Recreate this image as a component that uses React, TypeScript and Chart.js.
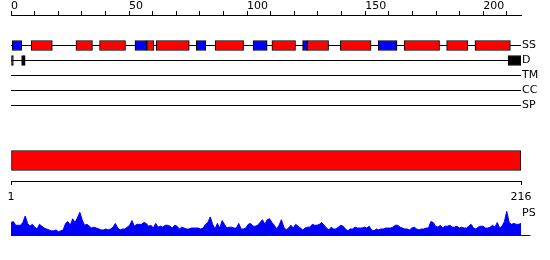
import React, { useEffect, useRef } from 'react';
import { Chart, registerables } from 'chart.js';

Chart.register(...registerables);

// ---------- data ----------
const SEQ_LENGTH = 216;
const TRACKS = ['SS', 'D', 'TM', 'CC', 'SP'];
const TOP_TICK_LABELS = [0, 50, 100, 150, 200];
const BOTTOM_TICK_LABELS = [1, 216];
const PS_LABEL = 'PS';

// secondary structure: helices (red) and strands (blue), [start, end] in residues
const SS_HELIX: [number, number][] = [
  [8.5, 17.5], [27.5, 34.5], [37.5, 48.5], [57.5, 60.5], [61.5, 75.5], [86.5, 98.5],
  [110.5, 120.5], [125.5, 134.5], [139.5, 152.5], [166.5, 181.5], [184.5, 193.5], [196.5, 211.5],
];
const SS_STRAND: [number, number][] = [
  [0.5, 4.5], [52.5, 57.5], [78.5, 82.5], [102.5, 108.5], [123.5, 125.5], [155.5, 163.5],
];
// disorder regions
const DISORDER: [number, number][] = [[0, 1], [4.5, 6], [210.5, 216]];
// full-length domain bar
const DOMAIN: [number, number][] = [[0, 216]];

// PS profile, residues 1..216
const PS_VALUES = [
  14, 15, 11, 11, 11, 14, 21, 13, 10, 12,
  9, 7, 12, 10, 8, 7, 6, 5, 5, 6,
  4, 5, 6, 13, 15, 11, 18, 14, 19, 25,
  17, 11, 12, 10, 8, 9, 8, 7, 6, 6,
  7, 6, 7, 9, 13, 8, 6, 7, 7, 9,
  11, 16, 10, 12, 12, 12, 14, 13, 10, 11,
  8, 13, 9, 10, 9, 11, 11, 10, 8, 11,
  10, 7, 9, 8, 7, 7, 8, 8, 8, 8,
  7, 8, 12, 14, 20, 12, 7, 13, 8, 16,
  12, 8, 9, 9, 8, 8, 13, 7, 7, 8,
  12, 13, 10, 10, 11, 14, 17, 12, 17, 18,
  14, 11, 7, 11, 17, 9, 6, 8, 11, 8,
  12, 10, 8, 6, 8, 9, 9, 12, 11, 11,
  12, 14, 11, 8, 6, 9, 7, 7, 9, 11,
  10, 7, 5, 7, 7, 9, 8, 8, 8, 9,
  8, 10, 6, 5, 7, 6, 7, 7, 8, 8,
  8, 9, 11, 11, 9, 8, 7, 7, 6, 8,
  9, 7, 6, 7, 7, 8, 8, 15, 14, 10,
  9, 11, 8, 10, 10, 11, 9, 9, 10, 8,
  9, 8, 8, 10, 12, 8, 7, 9, 10, 10,
  8, 8, 9, 11, 9, 14, 8, 10, 15, 26,
  14, 12, 13, 12, 12, 13,
];

// ---------- layout (not data) ----------
const ROW_Y: Record<string, number> = { SS: 45, D: 60, TM: 75, CC: 90, SP: 105 };
const DOMAIN_Y = 160;
const PS_LABEL_Y = 24.5;
const PS_BASELINE_END = 220;

const FONT = { family: 'DejaVu Sans', size: 11 };

export default function App() {
  const topRef = useRef<HTMLCanvasElement>(null);
  const psRef = useRef<HTMLCanvasElement>(null);

  useEffect(() => {
    const lineDs = TRACKS.map((t) => ({
      type: 'line' as const,
      data: [{ x: 0, y: ROW_Y[t] }, { x: SEQ_LENGTH, y: ROW_Y[t] }],
      borderColor: '#000',
      borderWidth: 1,
      pointRadius: 0,
      order: 2,
      xAxisID: 'x',
      yAxisID: 'y',
    }));
    const barDs = (ranges: [number, number][], color: string, y: number, thick: number) => ({
      type: 'bar' as const,
      indexAxis: 'y' as const,
      data: ranges.map((r) => ({ x: r, y })),
      backgroundColor: color,
      borderColor: '#000',
      borderWidth: 1,
      borderSkipped: false,
      barThickness: thick,
      stack: 'all',
      order: 1,
      xAxisID: 'x',
      yAxisID: 'y',
    });

    const c1 = new Chart(topRef.current!, {
      type: 'bar',
      data: {
        datasets: [
          ...lineDs,
          barDs(SS_HELIX, '#ff0000', ROW_Y.SS, 10),
          barDs(SS_STRAND, '#0000ff', ROW_Y.SS, 10),
          barDs(DISORDER, '#000000', ROW_Y.D, 10),
          barDs(DOMAIN, '#ff0000', DOMAIN_Y, 20),
        ] as any,
      },
      options: {
        animation: false,
        responsive: false,
        devicePixelRatio: 1,
        layout: { padding: { left: 11, right: 0, top: 0, bottom: 0 } },
        plugins: { legend: { display: false }, tooltip: { enabled: false } },
        scales: {
          x: {
            type: 'linear',
            position: 'top',
            min: 0,
            max: SEQ_LENGTH,
            stacked: false,
            offset: false,
            grid: { drawOnChartArea: false, tickLength: 4, color: '#000', offset: false },
            border: { color: '#000' },
            ticks: {
              stepSize: 10,
              includeBounds: false,
              autoSkip: false,
              maxRotation: 0,
              align: 'start',
              padding: -2,
              color: '#000',
              font: FONT,
              callback: (v: any) => (TOP_TICK_LABELS.includes(Number(v)) ? String(v) : ''),
            },
            afterFit: (s: any) => { s.height = 15; },
          },
          x2: {
            type: 'linear',
            position: 'bottom',
            min: 1,
            max: SEQ_LENGTH,
            offset: false,
            grid: { drawOnChartArea: false, drawTicks: true, tickLength: 4, color: '#000', offset: false },
            border: { color: '#000' },
            afterBuildTicks: (s: any) => { s.ticks = BOTTOM_TICK_LABELS.map((v) => ({ value: v })); },
            ticks: { autoSkip: false, maxRotation: 0, padding: 6, color: '#000', font: FONT },
            afterFit: (s: any) => { s.height = 19; },
          },
          y: {
            type: 'linear',
            position: 'right',
            min: 14.5,
            max: 180.5,
            reverse: true,
            offset: false,
            grid: { display: false, drawTicks: false, tickLength: 0 },
            border: { display: false },
            afterBuildTicks: (s: any) => { s.ticks = TRACKS.map((t) => ({ value: ROW_Y[t] })); },
            ticks: {
              autoSkip: false,
              padding: 1,
              crossAlign: 'near',
              color: '#000',
              font: FONT,
              callback: (_v: any, i: number) => TRACKS[i],
            },
            afterFit: (s: any) => { s.width = 29; },
          },
        } as any,
      },
    });

    const c2 = new Chart(psRef.current!, {
      type: 'line',
      data: {
        datasets: [
          {
            data: PS_VALUES.map((v, i) => ({ x: i + 1, y: v })),
            fill: 'origin',
            backgroundColor: '#0000ff',
            borderColor: '#0000ff',
            borderWidth: 1,
            pointRadius: 0,
            tension: 0,
          },
          {
            data: [{ x: 1, y: 0 }, { x: PS_BASELINE_END, y: 0 }],
            fill: false,
            borderColor: '#0000ff',
            borderWidth: 1,
            pointRadius: 0,
            clip: false,
          },
        ] as any,
      },
      options: {
        animation: false,
        responsive: false,
        devicePixelRatio: 1,
        layout: { padding: { left: 11, right: 0, top: 5.5, bottom: 24.5 } },
        plugins: { legend: { display: false }, tooltip: { enabled: false } },
        scales: {
          x: { type: 'linear', min: 1, max: SEQ_LENGTH, display: false },
          y: {
            type: 'linear',
            position: 'right',
            min: 0,
            max: 30,
            grid: { display: false, drawTicks: false, tickLength: 0 },
            border: { display: false },
            afterBuildTicks: (s: any) => { s.ticks = [{ value: PS_LABEL_Y }]; },
            ticks: {
              autoSkip: false,
              padding: 1,
              crossAlign: 'near',
              color: '#000',
              font: FONT,
              callback: () => PS_LABEL,
            },
            afterFit: (s: any) => { s.width = 29; },
          },
        } as any,
      },
    });

    return () => {
      c1.destroy();
      c2.destroy();
    };
  }, []);

  return (
    <div style={{ position: 'fixed', left: 0, top: 0, width: 550, height: 260, background: '#fff' }}>
      <canvas ref={topRef} width={550} height={200} style={{ position: 'absolute', left: 0, top: 0 }} />
      <canvas ref={psRef} width={550} height={60} style={{ position: 'absolute', left: 0, top: 200 }} />
    </div>
  );
}
